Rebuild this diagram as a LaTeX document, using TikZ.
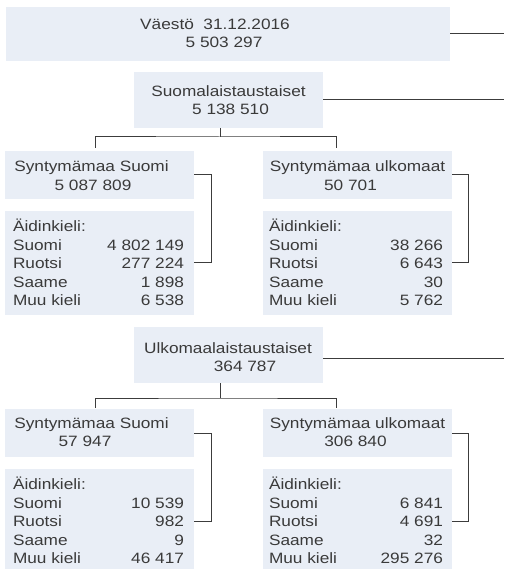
\documentclass[tikz,border=0pt]{standalone}
\usepackage{fontspec}
\setmainfont{Liberation Sans}[FakeStretch=1.15]
\definecolor{boxfill}{HTML}{E9EEF6}
\definecolor{txtcol}{HTML}{3A3A3A}
\definecolor{linecol}{HTML}{3C3C3C}
\newcommand\datarow[6]{\node[txt, anchor=base west] (#1) at (#2,#3) {\hbox to #4pt{#5\hfill #6}};}
\begin{document}
\begin{tikzpicture}[x=1pt,y=-1pt,
  box/.style={fill=boxfill, draw=none, inner sep=0pt, outer sep=0pt, anchor=north west},
  txt/.style={inner sep=0pt, outer sep=0pt, text=txtcol, font=\fontsize{15}{18}\selectfont},
  conn/.style={draw=linecol, line width=1pt}]
\useasboundingbox (0,0) rectangle (504,569);
% boxes
\node[box, minimum width=444pt, minimum height=54pt] (top) at (6,7) {};
\node[box, minimum width=189pt, minimum height=56pt] (suomal) at (134,72) {};
\node[box, minimum width=189pt, minimum height=48pt] (sf1) at (5,151) {};
\node[box, minimum width=189pt, minimum height=48pt] (su1) at (263,151) {};
\node[box, minimum width=189pt, minimum height=104pt] (ak1) at (5,211) {};
\node[box, minimum width=189pt, minimum height=104pt] (ak2) at (263,211) {};
\node[box, minimum width=189pt, minimum height=56pt] (ulko) at (134,327) {};
\node[box, minimum width=189pt, minimum height=48pt] (sf2) at (5,409) {};
\node[box, minimum width=189pt, minimum height=48pt] (su2) at (263,409) {};
\node[box, minimum width=189pt, minimum height=100pt] (ak3) at (5,469) {};
\node[box, minimum width=189pt, minimum height=100pt] (ak4) at (263,469) {};
% header texts
\node[txt, anchor=base] (t1a) at (215,29.3) {Väestö\ \ 31.12.2016};
\node[txt, anchor=base] (t1b) at (224,48) {5 503 297};
\node[txt, anchor=base] (t2a) at (228.5,96.7) {Suomalaistaustaiset};
\node[txt, anchor=base] (t2b) at (230.5,115) {5 138 510};
\node[txt, anchor=base] (t3a) at (91.5,171.7) {Syntymämaa Suomi};
\node[txt, anchor=base] (t3b) at (93,190) {5 087 809};
\node[txt, anchor=base] (t4a) at (357.5,171.7) {Syntymämaa ulkomaat};
\node[txt, anchor=base] (t4b) at (350.5,190) {50 701};
\node[txt, anchor=base] (t5a) at (228,353.3) {Ulkomaalaistaustaiset};
\node[txt, anchor=base] (t5b) at (245,371.7) {364 787};
\node[txt, anchor=base] (t6a) at (91.5,428.3) {Syntymämaa Suomi};
\node[txt, anchor=base] (t6b) at (85,446.7) {57 947};
\node[txt, anchor=base] (t7a) at (357.5,428.3) {Syntymämaa ulkomaat};
\node[txt, anchor=base] (t7b) at (355.5,446.7) {306 840};
% data rows group 1
\datarow{a1}{13}{231.5}{171}{Äidinkieli:}{}
\datarow{a2}{13}{250.1}{171}{Suomi}{4 802 149}
\datarow{a3}{13}{268.7}{171}{Ruotsi}{277 224}
\datarow{a4}{13}{287.3}{171}{Saame}{1 898}
\datarow{a5}{13}{305.9}{171}{Muu kieli}{6 538}
\datarow{b1}{269}{231.5}{174}{Äidinkieli:}{}
\datarow{b2}{269}{250.1}{174}{Suomi}{38 266}
\datarow{b3}{269}{268.7}{174}{Ruotsi}{6 643}
\datarow{b4}{269}{287.3}{174}{Saame}{30}
\datarow{b5}{269}{305.9}{174}{Muu kieli}{5 762}
% data rows group 2
\datarow{c1}{13}{489.5}{171}{Äidinkieli:}{}
\datarow{c2}{13}{508.1}{171}{Suomi}{10 539}
\datarow{c3}{13}{526.7}{171}{Ruotsi}{982}
\datarow{c4}{13}{545.3}{171}{Saame}{9}
\datarow{c5}{13}{563.9}{171}{Muu kieli}{46 417}
\datarow{d1}{269}{489.5}{174}{Äidinkieli:}{}
\datarow{d2}{269}{508.1}{174}{Suomi}{6 841}
\datarow{d3}{269}{526.7}{174}{Ruotsi}{4 691}
\datarow{d4}{269}{545.3}{174}{Saame}{32}
\datarow{d5}{269}{563.9}{174}{Muu kieli}{295 276}
% free ends and junctions
\coordinate (e1) at (504,34);
\coordinate (e2) at (504,100);
\coordinate (e3) at (504,358);
\coordinate (j1) at (220,137);
\coordinate (l1) at (95,148);
\coordinate (r1) at (336,148);
\coordinate (j2) at (220,398);
\coordinate (l2) at (95,408);
\coordinate (r2) at (336,408);
\coordinate (k1) at (211,262);
\coordinate (k2) at (468,262);
\coordinate (k3) at (211,521);
\coordinate (k4) at (468,521);
% connectors
\draw[conn] (top.east |- e1) -- (e1);
\draw[conn] (suomal.east |- e2) -- (e2);
\draw[conn] (ulko.east |- e3) -- (e3);
\draw[conn] (suomal.south -| j1) -- (j1);
\draw[conn] (l1) |- (j1) -| (r1);
\draw[conn] (ulko.south -| j2) -- (j2);
\draw[conn] (l2) |- (j2) -| (r2);
\draw[conn] (sf1.east) -| (k1) -- (ak1.east |- k1);
\draw[conn] (su1.east) -| (k2) -- (ak2.east |- k2);
\draw[conn] (sf2.east) -| (k3) -- (ak3.east |- k3);
\draw[conn] (su2.east) -| (k4) -- (ak4.east |- k4);
\end{tikzpicture}
\end{document}
